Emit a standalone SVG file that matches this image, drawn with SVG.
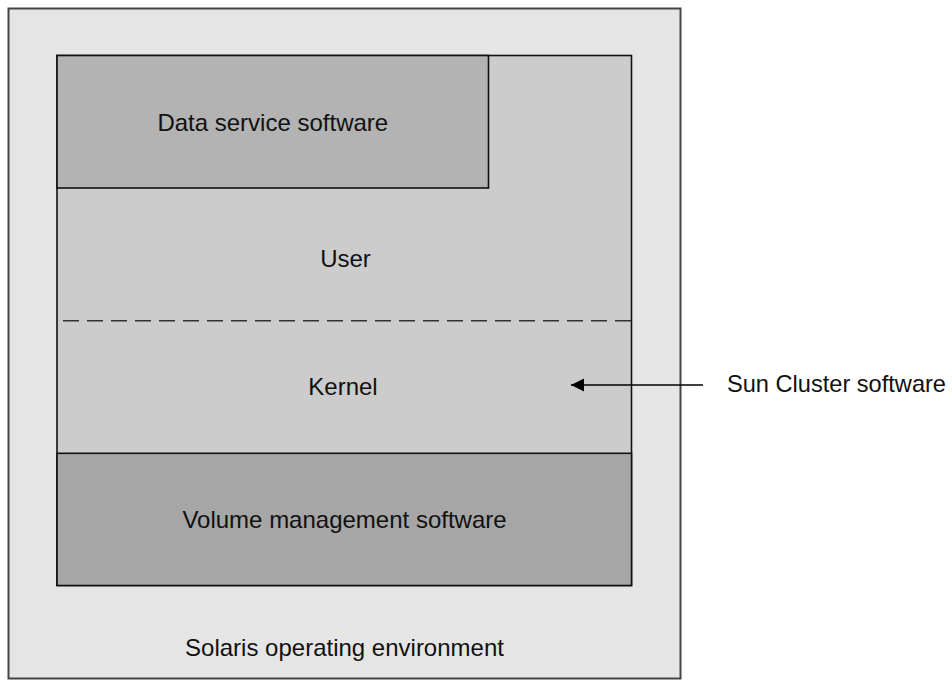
<svg xmlns="http://www.w3.org/2000/svg" width="952" height="680" viewBox="0 0 952 680">
<style>
text{font-family:"Liberation Sans",Arial,Helvetica,sans-serif;font-size:24px;fill:#111}
.c{text-anchor:middle}
.box{stroke:#111;stroke-width:1.6}
</style>
<defs>
<marker id="ah" markerWidth="14" markerHeight="14" refX="13" refY="7" orient="auto" markerUnits="userSpaceOnUse">
<path d="M0,0.5 L13,7 L0,13.5 Z" fill="#000"/>
</marker>
</defs>
<rect width="952" height="680" fill="#fff"/>
<g id="solaris">
<rect x="8.5" y="8.5" width="672" height="670" fill="#e5e5e5" stroke="#444" stroke-width="2"/>
<text class="c" x="344.5" y="656">Solaris operating environment</text>
</g>
<g id="suncluster">
<rect class="box" x="57" y="55.5" width="574.5" height="530" fill="#cccccc"/>
<line x1="63" y1="320.7" x2="632" y2="320.7" stroke="#333" stroke-width="1.6" stroke-dasharray="16 8"/>
<text class="c" x="345.5" y="267.3">User</text>
<text class="c" x="343" y="395">Kernel</text>
</g>
<g id="dataservice">
<rect class="box" x="57" y="55.5" width="431.5" height="132.5" fill="#b3b3b3"/>
<text class="c" x="272.8" y="130.7">Data service software</text>
</g>
<g id="volume">
<rect class="box" x="57" y="453.3" width="574.5" height="132.2" fill="#a6a6a6"/>
<text class="c" x="344.5" y="528.3">Volume management software</text>
</g>
<g id="label">
<text x="727" y="392" style="font-size:23.6px">Sun Cluster software</text>
</g>
<g id="connectors">
<line x1="703" y1="385" x2="571" y2="385" stroke="#000" stroke-width="1.3" marker-end="url(#ah)"/>
</g>
</svg>
